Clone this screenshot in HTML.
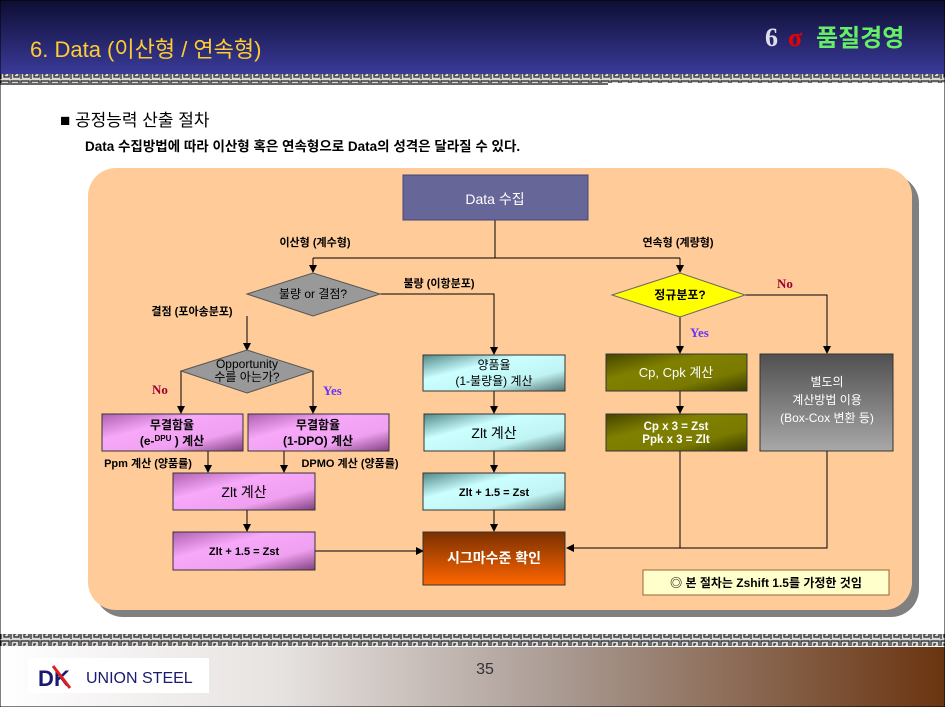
<!DOCTYPE html>
<html><head><meta charset="utf-8">
<style>
body{margin:0;width:945px;height:707px;overflow:hidden;background:#fff;font-family:"Liberation Sans","Noto Sans CJK KR",sans-serif;}
</style></head><body>
<svg width="945" height="707" viewBox="0 0 945 707" xmlns="http://www.w3.org/2000/svg" font-family="Liberation Sans, Noto Sans CJK KR, sans-serif">
<defs>
<linearGradient id="hdr" x1="0" y1="0" x2="0" y2="1"><stop offset="0" stop-color="#0d0d33"/><stop offset="1" stop-color="#3a3a99"/></linearGradient>
<linearGradient id="ftr" x1="0" y1="0" x2="1" y2="0"><stop offset="0" stop-color="#fff"/><stop offset="0.3" stop-color="#e6e2e0"/><stop offset="0.6" stop-color="#a89890"/><stop offset="1" stop-color="#6a3410"/></linearGradient>
<linearGradient id="pink" x1="0" y1="0" x2="1" y2="1"><stop offset="0" stop-color="#b060b0"/><stop offset="0.35" stop-color="#f8a8f8"/><stop offset="0.7" stop-color="#f0a0f0"/><stop offset="1" stop-color="#804080"/></linearGradient>
<linearGradient id="cyan" x1="0" y1="0" x2="1" y2="1"><stop offset="0" stop-color="#508888"/><stop offset="0.35" stop-color="#ccffff"/><stop offset="0.7" stop-color="#c0f4f4"/><stop offset="1" stop-color="#507070"/></linearGradient>
<linearGradient id="olive" x1="0" y1="0" x2="1" y2="1"><stop offset="0" stop-color="#444400"/><stop offset="0.35" stop-color="#808000"/><stop offset="0.7" stop-color="#7a7a00"/><stop offset="1" stop-color="#3a3a00"/></linearGradient>
<linearGradient id="gray" x1="0" y1="0" x2="0" y2="1"><stop offset="0" stop-color="#505050"/><stop offset="1" stop-color="#a8a8a8"/></linearGradient>
<linearGradient id="orng" x1="0" y1="0" x2="0" y2="1"><stop offset="0" stop-color="#7a3000"/><stop offset="1" stop-color="#ff6600"/></linearGradient>
<pattern id="key" width="10" height="10" patternUnits="userSpaceOnUse">
<rect width="10" height="10" fill="#d8d8d8"/><path d="M1 9V1H9V7H4V4H6" fill="none" stroke="#222" stroke-width="1.2"/></pattern>
<marker id="ar" markerWidth="8" markerHeight="8" refX="7" refY="4" orient="auto" markerUnits="userSpaceOnUse"><path d="M0 0L8 4L0 8z" fill="#000"/></marker>
</defs>
<rect x="0" y="0" width="945" height="74" fill="url(#hdr)"/>
<text x="30" y="57" font-size="22" fill="#ffcc33">6. Data (이산형 / 연속형)</text>
<text x="765" y="46" font-size="26" font-weight="bold" font-family="Liberation Serif, serif" fill="#dde">6</text>
<text x="788" y="46" font-size="26" font-weight="bold" font-family="Liberation Serif, serif" fill="#ee0000">σ</text>
<text x="816" y="46" font-size="24" font-weight="bold" fill="#66ee66">품질경영</text>
<rect x="0" y="74" width="945" height="9" fill="url(#key)"/>
<line x1="0" y1="84" x2="608" y2="84" stroke="#333" stroke-width="1.5"/>
<text x="60" y="126" font-size="17" fill="#000">■ 공정능력 산출 절차</text>
<text x="85" y="151" font-size="13.5" font-weight="bold" fill="#000">Data 수집방법에 따라 이산형 혹은 연속형으로 Data의 성격은 달라질 수 있다.</text>
<rect x="95" y="175" width="824" height="442" rx="28" fill="#808080"/>
<rect x="88" y="168" width="824" height="442" rx="28" fill="#ffcc99"/>
<g stroke="#000" stroke-width="1" fill="none">
<path d="M495 220V258M313 258H680"/>
<path d="M313 258V272" marker-end="url(#ar)"/>
<path d="M680 258V272" marker-end="url(#ar)"/>
<path d="M380 294H494V354" marker-end="url(#ar)"/>
<path d="M247 316V350" marker-end="url(#ar)"/>
<path d="M181 371V413" marker-end="url(#ar)"/>
<path d="M313 371V413" marker-end="url(#ar)"/>
<path d="M208 451V472" marker-end="url(#ar)"/>
<path d="M284 451V472" marker-end="url(#ar)"/>
<path d="M247 510V531" marker-end="url(#ar)"/>
<path d="M315 551H423" marker-end="url(#ar)"/>
<path d="M494 391V413" marker-end="url(#ar)"/>
<path d="M494 451V472" marker-end="url(#ar)"/>
<path d="M494 510V531" marker-end="url(#ar)"/>
<path d="M680 317V353" marker-end="url(#ar)"/>
<path d="M680 391V413" marker-end="url(#ar)"/>
<path d="M745 295H827V353" marker-end="url(#ar)"/>
<path d="M680 451V548M827 451V548H680"/>
<path d="M680 548H567" marker-end="url(#ar)"/>
</g>
<rect x="403" y="175" width="185" height="45" fill="#666699" stroke="#444477"/>
<text x="495" y="204" font-size="14" fill="#fff" text-anchor="middle">Data 수집</text>
<g font-size="11" font-weight="bold" fill="#000" text-anchor="middle">
<text x="315" y="246">이산형 (계수형)</text>
<text x="678" y="246">연속형 (계량형)</text>
<text x="439" y="287">불량 (이항분포)</text>
<text x="192" y="315">결점 (포아송분포)</text>
<text x="148" y="467">Ppm 계산 (양품률)</text>
<text x="350" y="467">DPMO 계산 (양품률)</text>
</g>
<polygon points="247,294 313,273 380,294 313,316" fill="#999" stroke="#555"/>
<text x="313" y="298" font-size="12" text-anchor="middle" fill="#000">불량 or 결점?</text>
<polygon points="181,371 247,350 313,371 247,393" fill="#999" stroke="#555"/>
<text x="247" y="368" font-size="12" text-anchor="middle">Opportunity</text>
<text x="247" y="381" font-size="12" text-anchor="middle">수를 아는가?</text>
<text x="152" y="394" font-size="13" font-weight="bold" fill="#990033" font-family="Liberation Serif, serif">No</text>
<text x="323" y="395" font-size="13" font-weight="bold" fill="#6633ff" font-family="Liberation Serif, serif">Yes</text>
<rect x="102" y="414" width="141" height="37" fill="url(#pink)" stroke="#333"/>
<text x="172" y="429" font-size="12" text-anchor="middle" font-weight="bold">무결함율</text>
<text x="172" y="445" font-size="12" text-anchor="middle" font-weight="bold">(e-<tspan font-size="8" dy="-4">DPU</tspan><tspan dy="4"> ) 계산</tspan></text>
<rect x="248" y="414" width="141" height="37" fill="url(#pink)" stroke="#333"/>
<text x="318" y="429" font-size="12" text-anchor="middle" font-weight="bold">무결함율</text>
<text x="318" y="445" font-size="12" text-anchor="middle" font-weight="bold">(1-DPO) 계산</text>
<rect x="173" y="473" width="142" height="37" fill="url(#pink)" stroke="#333"/>
<text x="244" y="497" font-size="14" text-anchor="middle">Zlt 계산</text>
<rect x="173" y="532" width="142" height="38" fill="url(#pink)" stroke="#333"/>
<text x="244" y="555" font-size="11" font-weight="bold" text-anchor="middle">Zlt + 1.5 = Zst</text>
<rect x="423" y="355" width="142" height="36" fill="url(#cyan)" stroke="#333"/>
<text x="494" y="369" font-size="12" text-anchor="middle">양품율</text>
<text x="494" y="385" font-size="12" text-anchor="middle">(1-불량율) 계산</text>
<rect x="424" y="414" width="141" height="37" fill="url(#cyan)" stroke="#333"/>
<text x="494" y="438" font-size="14" text-anchor="middle">Zlt 계산</text>
<rect x="423" y="473" width="142" height="37" fill="url(#cyan)" stroke="#333"/>
<text x="494" y="496" font-size="11" font-weight="bold" text-anchor="middle">Zlt + 1.5 = Zst</text>
<rect x="423" y="532" width="142" height="53" fill="url(#orng)" stroke="#333"/>
<text x="494" y="563" font-size="14" font-weight="bold" fill="#fff" text-anchor="middle">시그마수준 확인</text>
<polygon points="612,295 680,273 745,295 680,317" fill="#ffff00" stroke="#666"/>
<text x="680" y="299" font-size="12" font-weight="bold" text-anchor="middle">정규분포?</text>
<text x="777" y="288" font-size="13" font-weight="bold" fill="#990033" font-family="Liberation Serif, serif">No</text>
<text x="690" y="337" font-size="13" font-weight="bold" fill="#6633ff" font-family="Liberation Serif, serif">Yes</text>
<rect x="606" y="354" width="141" height="37" fill="url(#olive)" stroke="#333"/>
<text x="676" y="377" font-size="13" fill="#fff" text-anchor="middle">Cp, Cpk 계산</text>
<rect x="606" y="414" width="141" height="37" fill="url(#olive)" stroke="#333"/>
<text x="676" y="430" font-size="11.5" font-weight="bold" fill="#fff" text-anchor="middle">Cp x 3 = Zst</text>
<text x="676" y="443" font-size="11.5" font-weight="bold" fill="#fff" text-anchor="middle">Ppk x 3 = Zlt</text>
<rect x="760" y="354" width="133" height="97" fill="url(#gray)" stroke="#333"/>
<text x="827" y="386" font-size="12" fill="#fff" text-anchor="middle">별도의</text>
<text x="827" y="404" font-size="12" fill="#fff" text-anchor="middle">계산방법 이용</text>
<text x="827" y="422" font-size="12" fill="#fff" text-anchor="middle">(Box-Cox 변환 등)</text>
<rect x="643" y="570" width="246" height="25" fill="#ffffcc" stroke="#996633"/>
<text x="766" y="587" font-size="12" font-weight="bold" text-anchor="middle">◎ 본 절차는 Zshift 1.5를 가정한 것임</text>
<rect x="0" y="634" width="945" height="12" fill="url(#key)"/>
<rect x="0" y="647" width="945" height="60" fill="url(#ftr)"/>
<rect x="28" y="658" width="181" height="35" fill="#fff"/>
<text x="38" y="686" font-size="22" font-weight="bold" fill="#1a1a6e">D</text>
<text x="54" y="686" font-size="22" font-weight="bold" fill="#1a1a6e">K</text>
<path d="M53 666L70 688" stroke="#e02020" stroke-width="3"/>
<text x="86" y="683" font-size="16" fill="#1a1a6e">UNION STEEL</text>
<text x="485" y="674" font-size="16" text-anchor="middle" fill="#333">35</text>
<rect x="0" y="0" width="945" height="707" fill="none" stroke="#000" stroke-width="1"/>
</svg>
</body></html>
